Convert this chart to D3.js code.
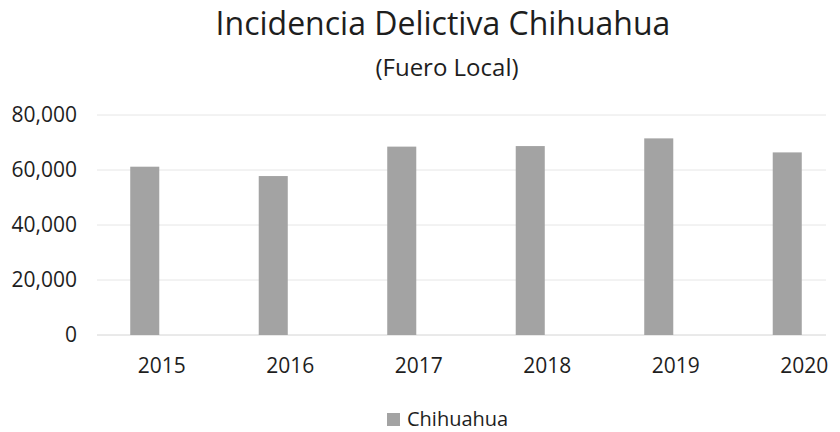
<!DOCTYPE html>
<html>
<head>
<meta charset="utf-8">
<script src="https://cdn.jsdelivr.net/npm/d3@7"></script>
<style>
  body { margin: 0; background: #fff; }
  text { font-family: "Open Sans", Lato, sans-serif; fill: #1e1e1e; }
</style>
</head>
<body>
<svg id="chart" width="840" height="432"></svg>
<script>
// chart data
var years = ['2015', '2016', '2017', '2018', '2019', '2020'];
var chihuahua = [61200, 57800, 68500, 68700, 71500, 66400];
var yTicks = [0, 20000, 40000, 60000, 80000];

var svg = d3.select('#chart');

var x = d3.scaleBand()
    .domain(years)
    .range([80.5, 851.5])
    .paddingInner(0.774)
    .paddingOuter(0.387);

var y = d3.scaleLinear()
    .domain([0, 80000])
    .range([335, 115]);

// gridlines
svg.append('g')
    .selectAll('line')
    .data(yTicks)
    .enter().append('line')
    .attr('x1', 97)
    .attr('x2', 826)
    .attr('y1', function (d) { return y(d); })
    .attr('y2', function (d) { return y(d); })
    .style('stroke', function (d) { return d === 0 ? '#d4d4d4' : '#e6e6e6'; })
    .style('stroke-width', 1);

// y axis labels
var yAxis = d3.axisLeft(y)
    .tickValues(yTicks)
    .tickFormat(d3.format(','))
    .tickSize(0)
    .tickPadding(0);

svg.append('g')
    .attr('transform', 'translate(77,0)')
    .call(yAxis)
    .call(function (g) { g.select('.domain').remove(); })
    .selectAll('text')
    .style('font-size', '21px')
    .attr('dy', '0.33em');

// bars
svg.append('g')
    .selectAll('rect')
    .data(chihuahua)
    .enter().append('rect')
    .attr('x', function (d, i) { return x(years[i]); })
    .attr('y', function (d) { return y(d); })
    .attr('width', x.bandwidth())
    .attr('height', function (d) { return y(0) - y(d); })
    .style('fill', '#a3a3a3');

// x axis labels (sit a little right of the bars, as in the scan)
var xAxis = d3.axisBottom(x).tickSize(0).tickPadding(0);
svg.append('g')
    .attr('transform', 'translate(17,373)')
    .call(xAxis)
    .call(function (g) { g.select('.domain').remove(); })
    .selectAll('text')
    .style('font-size', '21px')
    .attr('y', 0)
    .attr('dy', 0);

// titles
svg.append('text')
    .attr('x', 443)
    .attr('y', 35)
    .attr('text-anchor', 'middle')
    .style('font-size', '32px')
    .text('Incidencia Delictiva Chihuahua');

svg.append('text')
    .attr('x', 447)
    .attr('y', 76)
    .attr('text-anchor', 'middle')
    .style('font-size', '24px')
    .text('(Fuero Local)');

// legend
var legend = svg.append('g').attr('transform', 'translate(387,413)');
legend.append('rect')
    .attr('width', 13)
    .attr('height', 13)
    .style('fill', '#a3a3a3');
legend.append('text')
    .attr('x', 20)
    .attr('y', 13)
    .style('font-size', '20px')
    .text('Chihuahua');
</script>
</body>
</html>
